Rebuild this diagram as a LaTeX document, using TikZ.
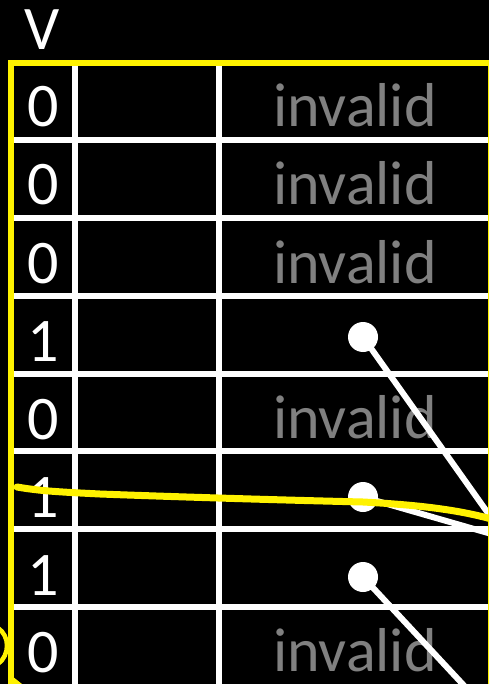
\documentclass[tikz,border=0pt]{standalone}
\usepackage{fontspec}
\setmainfont{Carlito}
\begin{document}
\begin{tikzpicture}[x=1pt,y=-1pt,
  grid/.style={draw=white,line width=5.5pt},
  bit/.style={text=white,font=\fontsize{62}{62}\selectfont,anchor=base,inner sep=0pt},
  inv/.style={text=gray,font=\fontsize{62}{62}\selectfont,anchor=base,inner sep=0pt},
  dot/.style={circle,fill=white,minimum size=30pt,inner sep=0pt},
  ptr/.style={draw=white,line width=6pt},
  hl/.style={draw=yellow,line width=7pt,line cap=round,line join=round}]
\fill[black] (0,0) rectangle (489,684);
\useasboundingbox (0,0) rectangle (489,684);
\begin{scope}
\clip (0,0) rectangle (489,684);
% grid
\foreach \y in {140,218,296,374,451,529,607} \draw[grid] (11,\y) -- (492,\y);
\draw[grid] (75,63) -- (75,690);
\draw[grid] (219,63) -- (219,690);
% header
\node[bit] (hV) at (42,50) {V};
% bits
\node[bit] (b1) at (43,127) {0};
\node[bit] (b2) at (43,205) {0};
\node[bit] (b3) at (43,283) {0};
\node[bit] (b4) at (43,361) {1};
\node[bit] (b5) at (43,439) {0};
\node[bit] (b6) at (43,517) {1};
\node[bit] (b7) at (43,595) {1};
\node[bit] (b8) at (43,672) {0};
% invalid labels
\node[inv] (i1) at (355,127) {invalid};
\node[inv] (i2) at (355,205) {invalid};
\node[inv] (i3) at (355,283) {invalid};
\node[inv] (i5) at (355,438) {invalid};
\node[inv] (i8) at (355,671) {invalid};
% pointers
\node[dot] (d4) at (363,337) {};
\node[dot] (d6) at (363,497) {};
\node[dot] (d7) at (363,577) {};
\coordinate (e4) at (495,523);
\coordinate (e6) at (495,535);
\coordinate (e7) at (470,692);
\draw[ptr] (d4.center) -- (e4);
\draw[ptr] (d6.center) -- (e6);
\draw[ptr] (d7.center) -- (e7);
% yellow frame
\draw[draw=yellow,line width=6pt] (11,63) rectangle (491,687);
% yellow freehand mark
\draw[hl] (17,487) .. controls (40,491) and (60,492) .. (100,494)
  .. controls (180,497) and (280,500) .. (363,502)
  .. controls (420,505) and (460,510) .. (495,520);
\draw[draw=yellow,line width=4.5pt] (-2,628) .. controls (10,636) and (10,655) .. (-2,664);
\fill[yellow] (8,684) -- (12,676) -- (22,684) -- cycle;
\end{scope}
\end{tikzpicture}
\end{document}
